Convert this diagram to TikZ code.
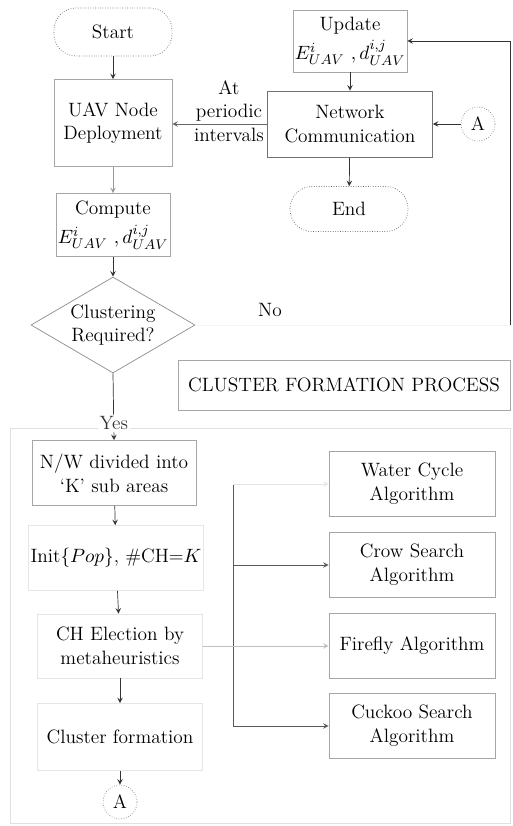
\documentclass[tikz,border=0pt]{standalone}
\usetikzlibrary{shapes.geometric}

\begin{document}
\begin{tikzpicture}[x=0.02cm, y=-0.02cm,
	font=\fontsize{11}{13.5}\selectfont,
	box/.style={draw=black!35, align=center, inner sep=1pt},
	term/.style={draw=black!60, densely dotted, rounded corners=0.44cm, align=center},
	conn/.style={circle, draw=black!50, densely dotted, minimum size=0.68cm, inner sep=0pt},
	flow/.style={->, >=stealth, black!80}]
	\useasboundingbox (0,0) rectangle (513,826);

	% Faint panel round the cluster formation part
	\draw[black!12] (10,428) rectangle (510,823);

	% Main column
	\node[term, minimum width=2.36cm, minimum height=0.96cm] (start) at (113,32) {Start};
	\node[box, minimum width=2.36cm, minimum height=1.74cm] (deploy) at (113,123) {UAV Node\\Deployment};
	\node[box, minimum width=2.0cm, minimum height=1.26cm] (compute) at (113,225)
		{Compute\\[3pt]$E^{i}_{UAV}\ ,d^{i,j}_{UAV}$};
	\node[diamond, aspect=1.7, draw=black!45, minimum width=3.28cm, minimum height=1.92cm,
		inner sep=0pt, align=center] (decide) at (113,325) {Clustering\\Required?};

	% Right column
	\node[box, minimum width=2.0cm, minimum height=1.24cm] (update) at (350,41)
		{Update\\[3pt]$E^{i}_{UAV}\ ,d^{i,j}_{UAV}$};
	\node[box, draw=black!55, minimum width=3.3cm, minimum height=1.32cm] (netcomm) at (350,124)
		{Network\\Communication};
	\node[conn] (conA) at (478,124) {A};
	\node[term, minimum width=2.36cm, minimum height=0.9cm] (endnode) at (349,209) {End};

	% Cluster formation process
	\node[box, minimum width=6.64cm, minimum height=1.0cm] (cluster) at (344,385)
		{CLUSTER FORMATION PROCESS};
	\node[box, minimum width=3.28cm, minimum height=1.3cm] (divide) at (114,473)
		{N/W divided into\\`K' sub areas};
	\node[box, draw=black!10, minimum width=3.12cm, minimum height=1.3cm] (init) at (116,558)
		{Init$\{Pop\}$, \#CH=$K$};
	\node[box, draw=black!10, minimum width=3.3cm, minimum height=1.28cm] (elect) at (120,646)
		{CH Election by\\metaheuristics};
	\node[box, draw=black!10, minimum width=3.3cm, minimum height=1.34cm] (form) at (120,737)
		{Cluster formation};
	\node[conn] (conB) at (120,802) {A};

	% Metaheuristics
	\node[box, minimum width=3.32cm, minimum height=1.3cm] (wca) at (412,484) {Water Cycle\\Algorithm};
	\node[box, minimum width=3.32cm, minimum height=1.3cm] (csa) at (412,565) {Crow Search\\Algorithm};
	\node[box, minimum width=3.32cm, minimum height=1.3cm] (ffa) at (412,646) {Firefly Algorithm};
	\node[box, minimum width=3.32cm, minimum height=1.3cm] (cuckoo) at (412,726) {Cuckoo Search\\Algorithm};

	% Connectors of the upper part
	\draw[flow] (start) -- (deploy);
	\draw[flow, black!40] (deploy) -- (compute);
	\draw[flow] (compute) -- (decide);
	\draw[flow] (update) -- (netcomm);
	\draw[flow] (conA) -- (netcomm);
	\draw[flow] (netcomm) -- (endnode);
	\draw[flow, black!60] (netcomm.west) -- (deploy.east |- netcomm.west);
	\node[align=center] (periodic) at (229,111) {At\\periodic\\intervals};

	% No branch back to the update step
	\coordinate (noturn) at (510,325);
	\draw[black!4] (decide.east) -- (noturn);
	\draw[flow] (noturn) |- (update.east);
	\node (nolabel) at (270,310) {No};

	% Yes branch into the cluster formation
	\draw[flow] (decide.south) -- (divide.north)
		node[pos=0.75, fill=white, inner sep=1pt] (yeslabel) {Yes};
	\draw[flow] (divide) -- (init);
	\draw[flow] (init) -- (elect);
	\draw[flow] (elect) -- (form);
	\draw[flow] (form) -- (conB);

	% Links to the metaheuristics
	\coordinate (bustop) at (233,484);
	\coordinate (busbot) at (233,726);
	\draw[black!65] (bustop) -- (busbot);
	\draw[flow, black!10] (bustop) -- (wca.west);
	\draw[flow, black!65] (bustop |- csa.west) -- (csa.west);
	\draw[flow, black!25] (elect.east) -- (ffa.west);
	\draw[flow, black!65] (busbot) -- (cuckoo.west);
\end{tikzpicture}
\end{document}
